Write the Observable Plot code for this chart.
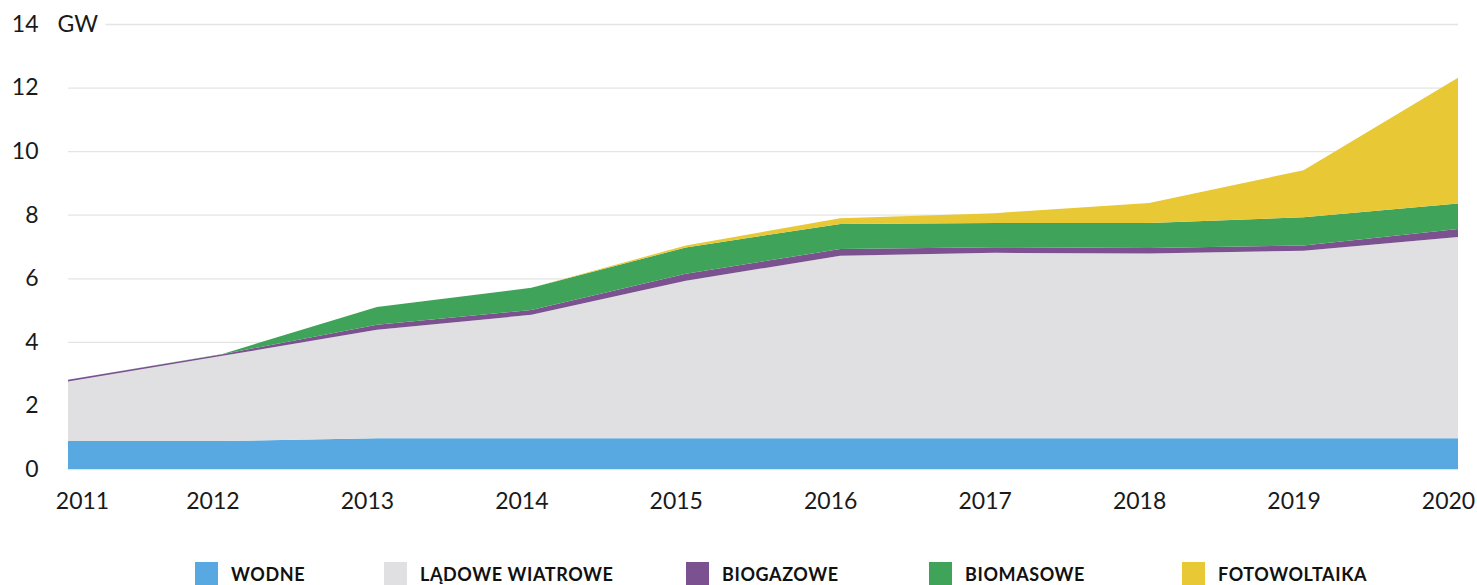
<!DOCTYPE html>
<html><head><meta charset="utf-8">
<script src="https://cdn.jsdelivr.net/npm/d3@7"></script>
<script src="https://cdn.jsdelivr.net/npm/@observablehq/plot@0.6"></script>
<style>
body{margin:0;background:#fff;font-family:Lato,sans-serif;}
#wrap{position:relative;width:1477px;height:585px;overflow:hidden;}
#legend{position:absolute;top:562px;left:0;width:1477px;height:30px;}
.item{position:absolute;top:0;display:flex;align-items:center;height:23px;}
.sw{width:23px;height:23px;margin-right:13px;}
.lb{font-family:Lato,sans-serif;font-weight:700;font-size:18px;letter-spacing:0.6px;color:#111;white-space:nowrap;}
</style></head>
<body><div id="wrap"><div id="chart"></div><div id="legend"></div></div>
<script>
const years = [2011, 2012, 2013, 2014, 2015, 2016, 2017, 2018, 2019, 2020];
const seriesNames = ["WODNE", "LĄDOWE WIATROWE", "BIOGAZOWE", "BIOMASOWE", "FOTOWOLTAIKA"];
const seriesColors = ["#58a9e2", "#e0e0e2", "#7b5190", "#40a35a", "#e8c835"];
const wodne        = [0.88, 0.88, 0.97, 0.97, 0.97, 0.97, 0.97, 0.97, 0.97, 0.97];
const wiatrowe     = [1.87, 2.68, 3.41, 3.88, 4.95, 5.74, 5.83, 5.81, 5.90, 6.33];
const biogazowe    = [0.06, 0.05, 0.16, 0.15, 0.22, 0.21, 0.18, 0.17, 0.16, 0.25];
const biomasowe    = [0.00, 0.01, 0.56, 0.70, 0.83, 0.79, 0.76, 0.79, 0.89, 0.80];
const fotowoltaika = [0.00, 0.00, 0.00, 0.00, 0.06, 0.18, 0.31, 0.63, 1.48, 3.96];
const yTicks = [0, 2, 4, 6, 8, 10, 12, 14];
const unitLabel = "GW";

const seriesValues = [wodne, wiatrowe, biogazowe, biomasowe, fotowoltaika];
const table = [];
seriesNames.forEach((name, i) => {
  years.forEach((yr, j) => table.push({year: yr, series: name, value: seriesValues[i][j]}));
});

const fontSize = 23;
const chart = Plot.plot({
  width: 1477,
  height: 540,
  marginLeft: 68,
  marginRight: 19,
  marginTop: 24,
  marginBottom: 71,
  style: {fontFamily: "Lato, sans-serif", fontSize: fontSize + "px", color: "#1a1a1a", background: "#fff"},
  x: {type: "linear", domain: [2011, 2020]},
  y: {domain: [0, 14]},
  color: {domain: seriesNames, range: seriesColors},
  marks: [
    Plot.ruleY(yTicks, {stroke: "#e4e4e4", strokeWidth: 1.3}),
    Plot.areaY(table, {x: "year", y: "value", fill: "series", order: seriesNames, curve: "linear"}),
    Plot.axisY({ticks: yTicks, tickSize: 0, tickPadding: 30, fontSize: fontSize, tickFormat: d => String(d), label: null}),
    Plot.axisX({ticks: years.slice(1), tickSize: 0, tickPadding: 23, dx: -10, fontSize: fontSize, tickFormat: d => String(d), label: null}),
    Plot.axisX({ticks: years.slice(0, 1), tickSize: 0, tickPadding: 23, dx: 14, fontSize: fontSize, tickFormat: d => String(d), label: null}),
    Plot.text([unitLabel], {x: () => years[0], y: () => yTicks[yTicks.length - 1], text: d => d, textAnchor: "start", dx: -11, fontSize: fontSize, fill: "#1a1a1a", stroke: "white", strokeWidth: 20})
  ]
});
document.getElementById("chart").appendChild(chart);

const legendLefts = [195, 384, 686, 929, 1182];
const legend = document.getElementById("legend");
seriesNames.forEach((name, i) => {
  const it = document.createElement("div");
  it.className = "item";
  it.style.left = legendLefts[i] + "px";
  it.innerHTML = `<div class="sw" style="background:${seriesColors[i]}"></div><span class="lb">${name}</span>`;
  legend.appendChild(it);
});
</script>
</body></html>
